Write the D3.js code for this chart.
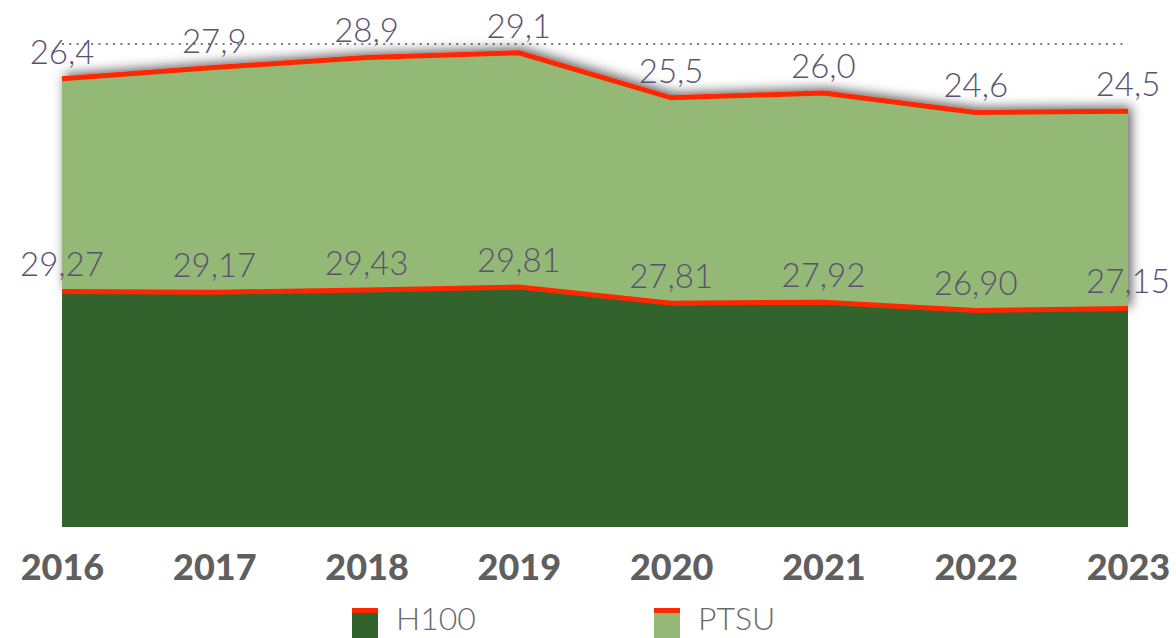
<!DOCTYPE html>
<html>
<head>
<meta charset="utf-8">
<script src="https://cdn.jsdelivr.net/npm/d3@7"></script>
<style>
  body { margin: 0; background: #fff; }
  svg { display: block; }
</style>
</head>
<body>
<svg></svg>
<script>
// dimensions de la page
var WIDTH = 1176;
var HEIGHT = 638;

// données
const annees = ['2016', '2017', '2018', '2019', '2020', '2021', '2022', '2023'];
const h100 = [29.27, 29.17, 29.43, 29.81, 27.81, 27.92, 26.90, 27.15];
const ptsu = [26.4, 27.9, 28.9, 29.1, 25.5, 26.0, 24.6, 24.5];
const yMax = 60;

const svg = d3.select('svg')
    .attr('width', WIDTH)
    .attr('height', HEIGHT);

// ombre portée sous la zone PTSU
const defs = svg.append('defs');
const filtre = defs.append('filter')
    .attr('id', 'ombre')
    .attr('x', '-10%').attr('y', '-20%')
    .attr('width', '120%').attr('height', '140%');
filtre.append('feDropShadow')
    .attr('dx', 3).attr('dy', -2)
    .attr('stdDeviation', 6)
    .attr('flood-color', '#000')
    .attr('flood-opacity', 0.65);

// échelles
var x = d3.scalePoint()
    .domain(annees)
    .range([62, 1128]);
var y = d3.scaleLinear()
    .domain([0, yMax])
    .range([527, 44]);

// empilement
const donnees = annees.map((a, i) => ({ annee: a, H100: h100[i], PTSU: ptsu[i] }));
const pile = d3.stack().keys(['H100', 'PTSU'])(donnees);

const aire = d3.area()
    .x(d => x(d.data.annee))
    .y0(d => y(d[0]))
    .y1(d => y(d[1]));
const ligne = d3.line()
    .x(d => x(d.data.annee))
    .y(d => y(d[1]));

// ligne pointillée en haut
svg.append('line')
    .attr('x1', x.range()[0]).attr('x2', x.range()[1])
    .attr('y1', y(yMax)).attr('y2', y(yMax))
    .attr('stroke', '#7a7a7a')
    .attr('stroke-width', 2)
    .attr('stroke-dasharray', '2,5.3');

// zone PTSU avec ombre
const gPtsu = svg.append('g').attr('filter', 'url(#ombre)');
gPtsu.append('path')
    .attr('d', aire(pile[1]))
    .attr('fill', '#94b876');
gPtsu.append('path')
    .attr('d', ligne(pile[1]))
    .attr('fill', 'none')
    .attr('stroke', '#ff2600')
    .attr('stroke-width', 5);

// zone H100
svg.append('path')
    .attr('d', aire(pile[0]))
    .attr('fill', '#33632d');
svg.append('path')
    .attr('d', ligne(pile[0]))
    .attr('fill', 'none')
    .attr('stroke', '#ff2600')
    .attr('stroke-width', 5);

// étiquettes des valeurs
const virgule = (v, n) => v.toFixed(n).replace('.', ',');
svg.append('g').selectAll('text')
    .data(pile[0])
    .enter()
    .append('text')
    .attr('x', d => x(d.data.annee))
    .attr('y', d => y(d[1]) - 15)
    .attr('text-anchor', 'middle')
    .style('font-family', 'Lato')
    .style('font-weight', 300)
    .style('font-size', '33px')
    .attr('fill', '#5b5270')
    .text(d => virgule(d.data.H100, 2));

svg.append('g').selectAll('text')
    .data(pile[1])
    .enter()
    .append('text')
    .attr('x', d => x(d.data.annee))
    .attr('y', d => y(d[1]) - 15)
    .attr('text-anchor', 'middle')
    .style('font-family', 'Lato')
    .style('font-weight', 300)
    .style('font-size', '33px')
    .attr('fill', '#5b5270')
    .text(d => virgule(d.data.PTSU, 1));

// axe des années
const axe = svg.append('g')
    .attr('transform', 'translate(0,' + y(0) + ')')
    .call(d3.axisBottom(x).tickSize(0).tickPadding(53));
axe.select('.domain').remove();
axe.selectAll('text')
    .style('font-family', 'Lato')
    .style('font-weight', 900)
    .style('font-size', '36px')
    .attr('fill', '#5f5f5f')
    .attr('dy', 0);

// légende
const legende = [
  { nom: 'H100', couleur: '#33632d', x: 352 },
  { nom: 'PTSU', couleur: '#94b876', x: 654 }
];
const gLeg = svg.append('g').selectAll('g')
    .data(legende)
    .enter()
    .append('g')
    .attr('transform', d => 'translate(' + d.x + ',608)');
gLeg.append('rect')
    .attr('width', 26).attr('height', 32)
    .attr('fill', d => d.couleur);
gLeg.append('rect')
    .attr('width', 26).attr('height', 5)
    .attr('fill', '#ff2600');
gLeg.append('text')
    .attr('x', 44)
    .attr('y', 22)
    .style('font-family', 'Lato')
    .style('font-weight', 300)
    .style('font-size', '32px')
    .attr('fill', '#6a6a6a')
    .text(d => d.nom);
</script>
</body>
</html>
